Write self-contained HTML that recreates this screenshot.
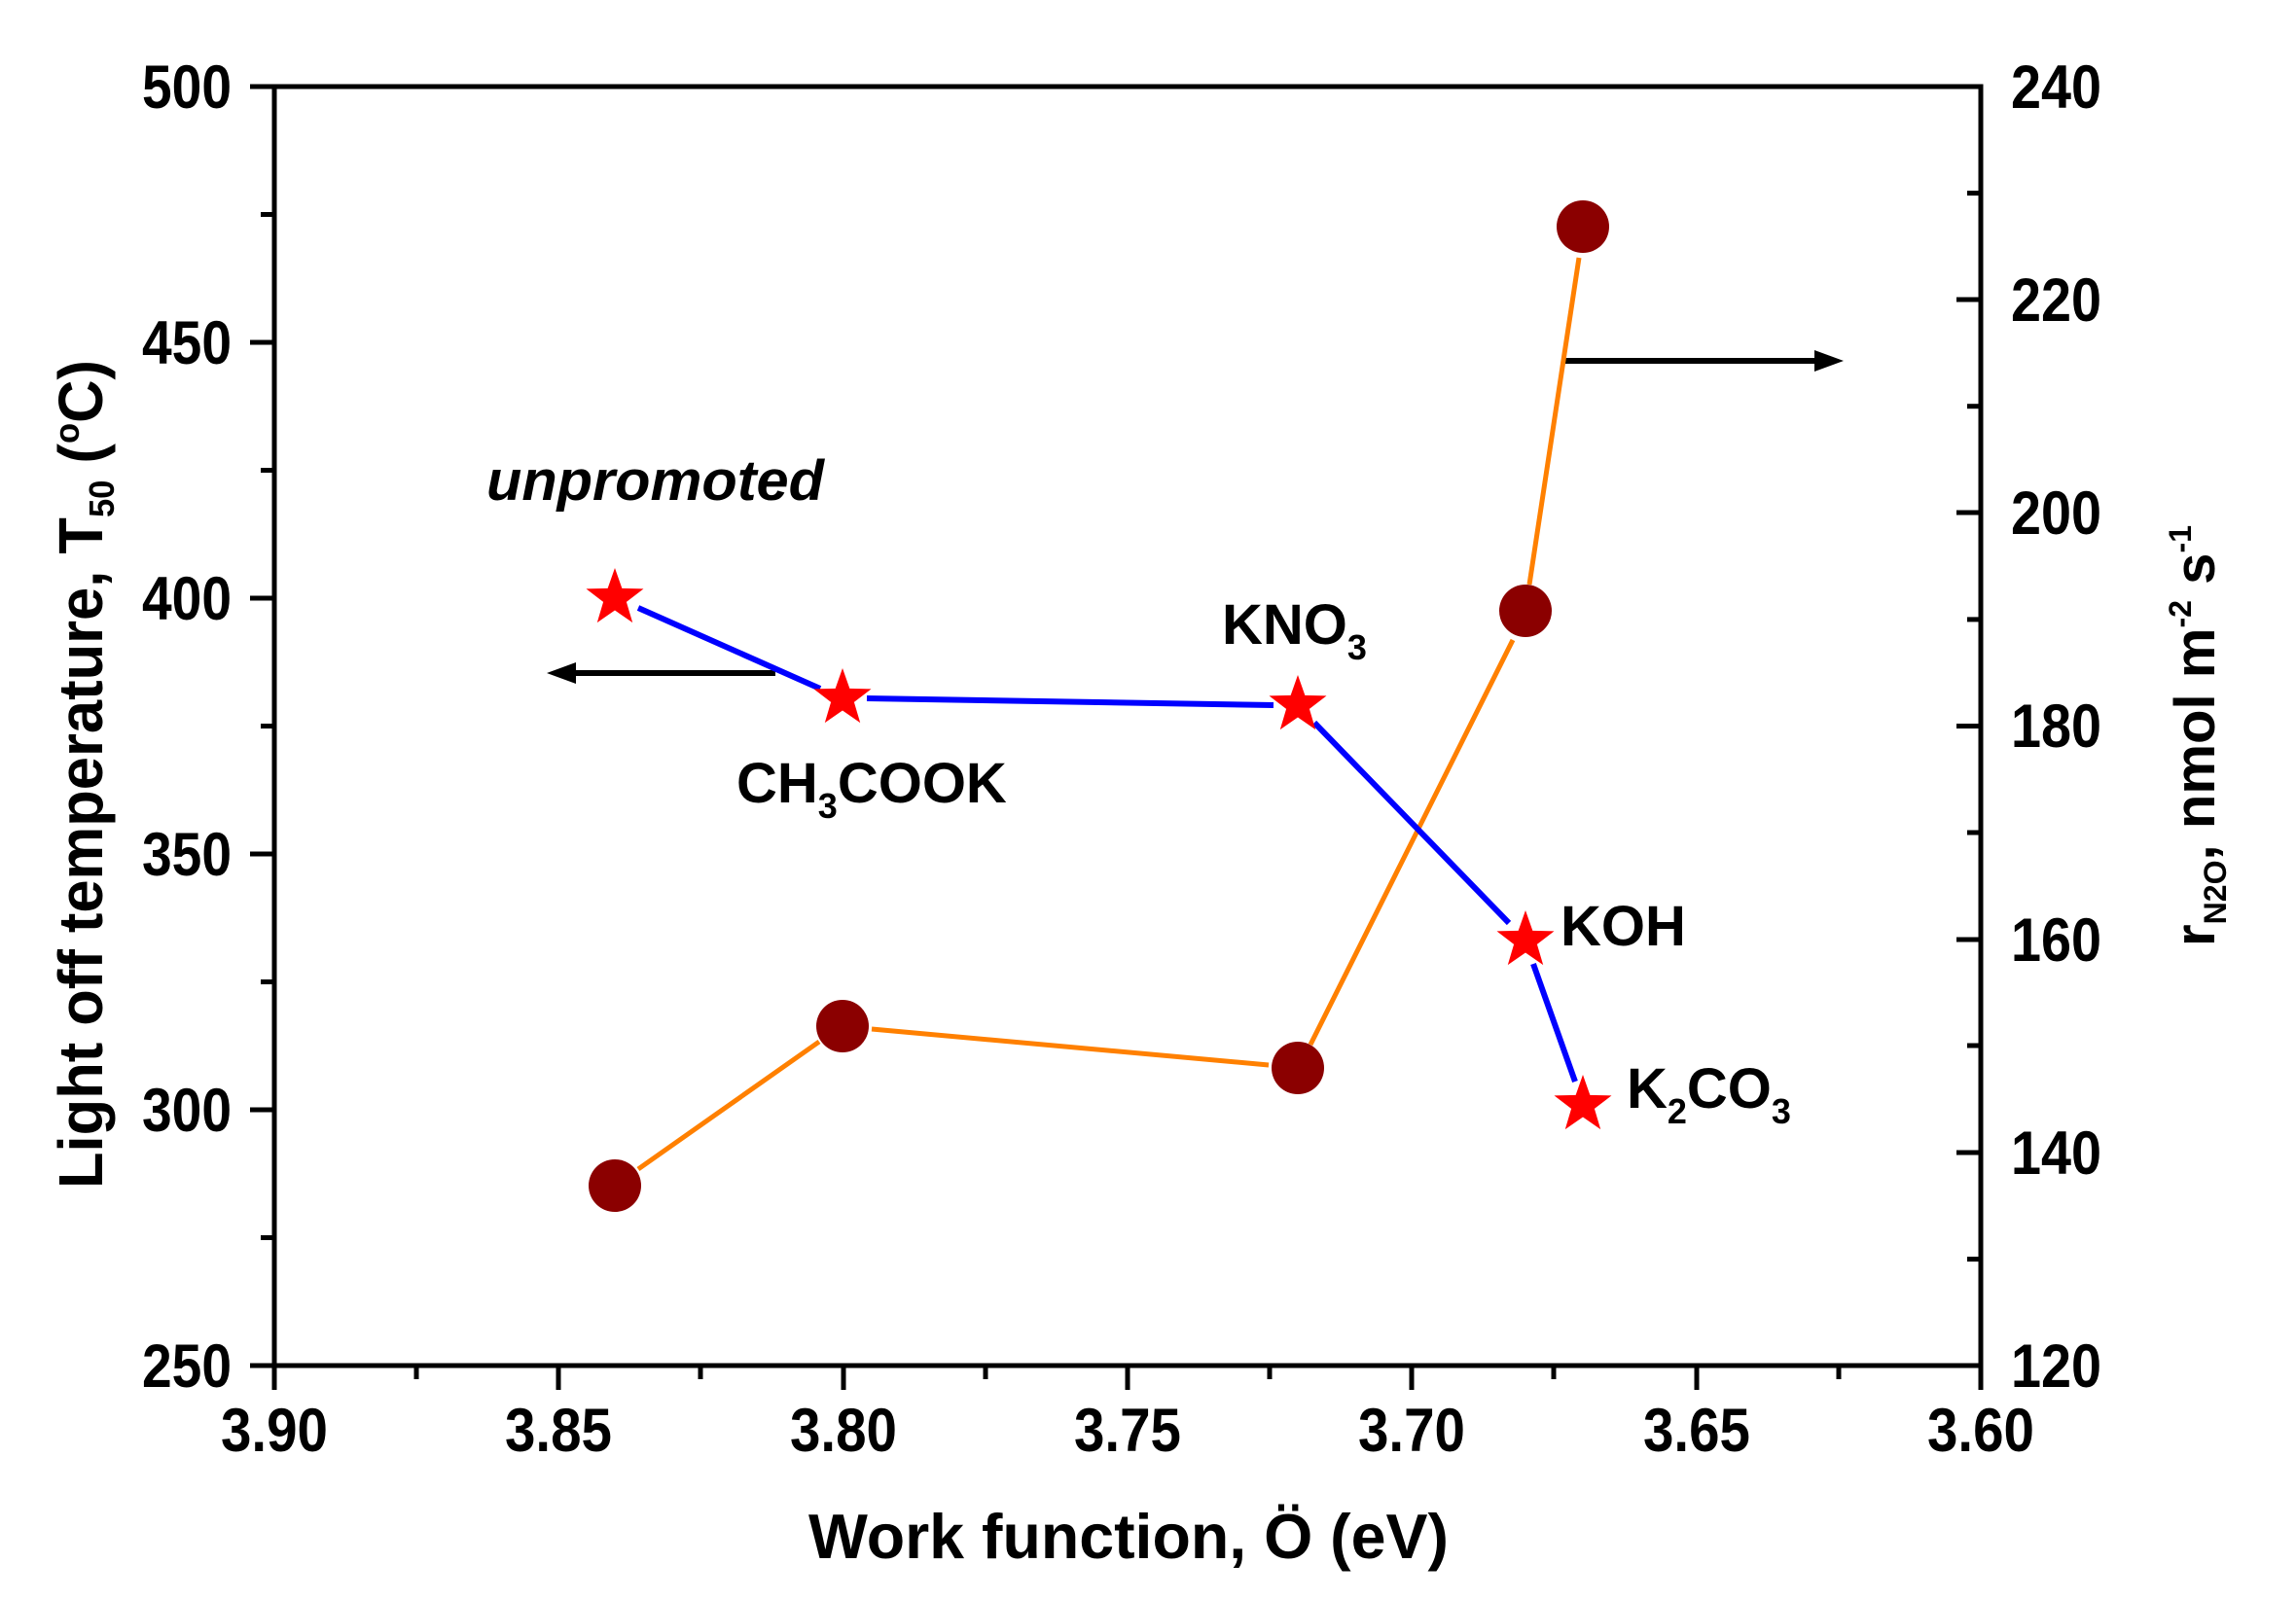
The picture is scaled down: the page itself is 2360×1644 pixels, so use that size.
<!DOCTYPE html>
<html><head><meta charset="utf-8"><style>html,body{margin:0;padding:0;background:#fff}svg{display:block}</style></head>
<body>
<svg width="2360" height="1644" viewBox="0 0 2360 1644" xmlns="http://www.w3.org/2000/svg" font-family="Liberation Sans, Arial, sans-serif" font-weight="bold">
<defs>
<polygon id="st" points="0,-31 7.35,-10.1 29.5,-9.6 11.9,3.86 18.2,25.1 0,12.5 -18.2,25.1 -11.9,3.86 -29.5,-9.6 -7.35,-10.1" fill="#ff0000"/>
</defs>
<rect width="2360" height="1644" fill="#fff"/>
<!-- axes box -->
<rect x="282" y="89" width="1754" height="1315" fill="none" stroke="#000" stroke-width="5"/>
<g stroke="#000" stroke-width="5">
<!-- left major ticks -->
<line x1="257" y1="89" x2="282" y2="89"/><line x1="257" y1="352" x2="282" y2="352"/><line x1="257" y1="615" x2="282" y2="615"/><line x1="257" y1="878" x2="282" y2="878"/><line x1="257" y1="1141" x2="282" y2="1141"/><line x1="257" y1="1404" x2="282" y2="1404"/>
<!-- left minor -->
<line x1="268" y1="220.5" x2="282" y2="220.5"/><line x1="268" y1="483.5" x2="282" y2="483.5"/><line x1="268" y1="746.5" x2="282" y2="746.5"/><line x1="268" y1="1009.5" x2="282" y2="1009.5"/><line x1="268" y1="1272.5" x2="282" y2="1272.5"/>
<!-- bottom major -->
<line x1="282" y1="1404" x2="282" y2="1429"/><line x1="574" y1="1404" x2="574" y2="1429"/><line x1="867" y1="1404" x2="867" y2="1429"/><line x1="1159" y1="1404" x2="1159" y2="1429"/><line x1="1451" y1="1404" x2="1451" y2="1429"/><line x1="1744" y1="1404" x2="1744" y2="1429"/><line x1="2036" y1="1404" x2="2036" y2="1429"/>
<!-- bottom minor -->
<line x1="428" y1="1404" x2="428" y2="1418"/><line x1="720" y1="1404" x2="720" y2="1418"/><line x1="1013" y1="1404" x2="1013" y2="1418"/><line x1="1305" y1="1404" x2="1305" y2="1418"/><line x1="1597" y1="1404" x2="1597" y2="1418"/><line x1="1890" y1="1404" x2="1890" y2="1418"/>
<!-- right major (inward) -->
<line x1="2011" y1="308" x2="2036" y2="308"/><line x1="2011" y1="527" x2="2036" y2="527"/><line x1="2011" y1="746.5" x2="2036" y2="746.5"/><line x1="2011" y1="966" x2="2036" y2="966"/><line x1="2011" y1="1185" x2="2036" y2="1185"/>
<!-- right minor -->
<line x1="2022" y1="198.6" x2="2036" y2="198.6"/><line x1="2022" y1="417.7" x2="2036" y2="417.7"/><line x1="2022" y1="636.9" x2="2036" y2="636.9"/><line x1="2022" y1="856" x2="2036" y2="856"/><line x1="2022" y1="1075" x2="2036" y2="1075"/><line x1="2022" y1="1294.6" x2="2036" y2="1294.6"/>
</g>
<!-- tick labels -->
<g font-size="63" text-anchor="end" fill="#000">
<text x="238" y="111" textLength="92" lengthAdjust="spacingAndGlyphs">500</text>
<text x="238" y="374" textLength="92" lengthAdjust="spacingAndGlyphs">450</text>
<text x="238" y="637" textLength="92" lengthAdjust="spacingAndGlyphs">400</text>
<text x="238" y="900" textLength="92" lengthAdjust="spacingAndGlyphs">350</text>
<text x="238" y="1163" textLength="92" lengthAdjust="spacingAndGlyphs">300</text>
<text x="238" y="1426" textLength="92" lengthAdjust="spacingAndGlyphs">250</text>
</g>
<g font-size="63" fill="#000">
<text x="2067" y="111" textLength="93" lengthAdjust="spacingAndGlyphs">240</text>
<text x="2067" y="330" textLength="93" lengthAdjust="spacingAndGlyphs">220</text>
<text x="2067" y="549" textLength="93" lengthAdjust="spacingAndGlyphs">200</text>
<text x="2067" y="768" textLength="93" lengthAdjust="spacingAndGlyphs">180</text>
<text x="2067" y="988" textLength="93" lengthAdjust="spacingAndGlyphs">160</text>
<text x="2067" y="1207" textLength="93" lengthAdjust="spacingAndGlyphs">140</text>
<text x="2067" y="1426" textLength="93" lengthAdjust="spacingAndGlyphs">120</text>
</g>
<g font-size="63" text-anchor="middle" fill="#000">
<text x="282" y="1492" textLength="110" lengthAdjust="spacingAndGlyphs">3.90</text>
<text x="574" y="1492" textLength="110" lengthAdjust="spacingAndGlyphs">3.85</text>
<text x="867" y="1492" textLength="110" lengthAdjust="spacingAndGlyphs">3.80</text>
<text x="1159" y="1492" textLength="110" lengthAdjust="spacingAndGlyphs">3.75</text>
<text x="1451" y="1492" textLength="110" lengthAdjust="spacingAndGlyphs">3.70</text>
<text x="1744" y="1492" textLength="110" lengthAdjust="spacingAndGlyphs">3.65</text>
<text x="2036" y="1492" textLength="110" lengthAdjust="spacingAndGlyphs">3.60</text>
</g>
<!-- axis titles -->
<text x="831" y="1602" font-size="65" textLength="658" lengthAdjust="spacingAndGlyphs">Work function, Ö (eV)</text>
<text transform="translate(105,1222) rotate(-90)" font-size="64" textLength="852" lengthAdjust="spacingAndGlyphs">Light off temperature, T<tspan font-size="36" dy="12">50</tspan><tspan dy="-12"> (</tspan><tspan font-size="36" dy="-24">o</tspan><tspan dy="24">C)</tspan></text>
<text transform="translate(2276,973) rotate(-90)" font-size="58" textLength="433" lengthAdjust="spacingAndGlyphs">r<tspan font-size="32" dy="12">N2O</tspan><tspan dy="-12">, nmol m</tspan><tspan font-size="32" dy="-24">-2</tspan><tspan dy="24"> s</tspan><tspan font-size="32" dy="-24">-1</tspan></text>
<!-- arrows -->
<g stroke="#000" stroke-width="6" fill="#000">
<line x1="797" y1="692" x2="585" y2="692"/>
<polygon points="562,692 592,681 592,703" stroke="none"/>
<line x1="1608" y1="371" x2="1870" y2="371"/>
<polygon points="1895,371 1865,360 1865,382" stroke="none"/>
</g>
<!-- orange series -->
<g stroke="#ff8000" stroke-width="5" fill="none">
<line x1="656" y1="1202" x2="842" y2="1071"/>
<line x1="896" y1="1058" x2="1304" y2="1095"/>
<line x1="1347" y1="1074" x2="1555" y2="658"/>
<line x1="1572" y1="601" x2="1623" y2="265"/>
</g>
<g fill="#8b0000">
<circle cx="632" cy="1219" r="27"/>
<circle cx="866" cy="1055" r="27"/>
<circle cx="1334" cy="1098" r="27"/>
<circle cx="1568" cy="628" r="27"/>
<circle cx="1627" cy="233" r="27"/>
</g>
<!-- blue series -->
<g stroke="#0000ff" stroke-width="6" fill="none">
<line x1="656" y1="625" x2="843" y2="708"/>
<line x1="891" y1="718" x2="1309" y2="725"/>
<line x1="1351" y1="743" x2="1551" y2="949"/>
<line x1="1576" y1="991" x2="1619" y2="1112"/>
</g>
<use href="#st" x="632" y="615"/>
<use href="#st" x="866" y="718"/>
<use href="#st" x="1334" y="725"/>
<use href="#st" x="1568" y="967"/>
<use href="#st" x="1627" y="1136"/>
<!-- labels -->
<g font-size="58" fill="#000">
<text x="500" y="514" font-style="italic" textLength="347" lengthAdjust="spacingAndGlyphs">unpromoted</text>
<text x="757" y="825">CH<tspan font-size="36" dy="16">3</tspan><tspan dy="-16">COOK</tspan></text>
<text x="1256" y="662">KNO<tspan font-size="36" dy="16">3</tspan></text>
<text x="1604" y="972">KOH</text>
<text x="1672" y="1139">K<tspan font-size="36" dy="16">2</tspan><tspan dy="-16">CO</tspan><tspan font-size="36" dy="16">3</tspan></text>
</g>
</svg>
</body></html>
